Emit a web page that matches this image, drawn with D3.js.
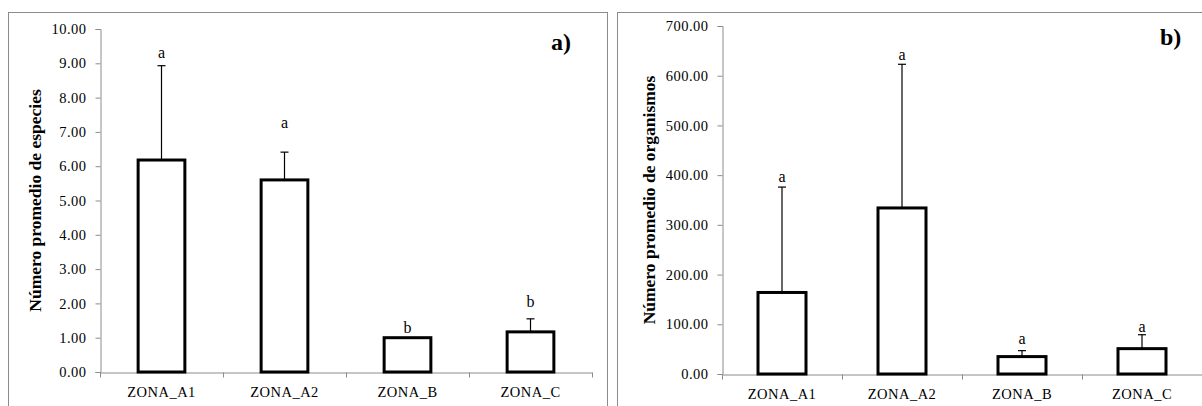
<!DOCTYPE html>
<html>
<head>
<meta charset="utf-8">
<script src="https://cdn.jsdelivr.net/npm/d3@7"></script>
<style>
  body { margin: 0; background: #fff; }
  svg text { font-family: "Liberation Serif", "Times New Roman", serif; }
</style>
</head>
<body>
<svg id="chart" width="1202" height="406"></svg>
<script>
var zonas = ["ZONA_A1", "ZONA_A2", "ZONA_B", "ZONA_C"];

// panel a) numero de especies
var especiesMean = [6.18, 5.60, 1.00, 1.17];
var especiesErr = [2.75, 0.81, 0, 0.38];
var especiesLetra = ["a", "a", "b", "b"];
var especiesLetraY = [9.15, 7.11, 1.14, 1.90];
var especiesTicks = [0, 1, 2, 3, 4, 5, 6, 7, 8, 9, 10];

// panel b) numero de organismos
var organismosMean = [164, 334, 35, 51];
var organismosErr = [212, 289, 12, 28];
var organismosLetra = ["a", "a", "a", "a"];
var organismosLetraY = [386, 631, 61, 85];
var organismosTicks = [0, 100, 200, 300, 400, 500, 600, 700];

var svg = d3.select("#chart");

function barPanel(opt) {
  var g = svg.append("g");

  // marco del grafico
  g.append("rect")
      .attr("x", opt.box[0] + 0.5)
      .attr("y", opt.box[1] + 0.5)
      .attr("width", opt.box[2])
      .attr("height", opt.box[3])
      .attr("fill", "none")
      .attr("stroke", "#8c8c8c")
      .attr("stroke-width", 1);

  var x = d3.scaleBand()
      .domain(zonas)
      .range([opt.x0, opt.x1])
      .paddingInner(opt.pad)
      .paddingOuter(opt.pad / 2);

  var y = d3.scaleLinear()
      .domain([0, d3.max(opt.ticks)])
      .range([opt.y0, opt.y1]);

  var yAxis = g.append("g")
      .attr("transform", "translate(" + (opt.x0 + 0.5) + ",0)")
      .call(d3.axisLeft(y).tickValues(opt.ticks).tickFormat(d3.format(".2f")).tickSize(5).tickPadding(9));

  var xAxis = g.append("g")
      .attr("transform", "translate(0," + (opt.y0 + 0.5) + ")")
      .call(d3.axisBottom(x).tickSize(0).tickPadding(14));

  // marcas entre categorias
  var step = x.step();
  xAxis.selectAll(".sep")
      .data(d3.range(zonas.length + 1))
      .enter().append("line")
        .attr("class", "sep")
        .attr("x1", function(i) { return Math.round(opt.x0 + i * step) + 0.5; })
        .attr("x2", function(i) { return Math.round(opt.x0 + i * step) + 0.5; })
        .attr("y1", 0)
        .attr("y2", 5);

  [yAxis, xAxis].forEach(function(a) {
    a.selectAll("path, line").attr("stroke", "#8c8c8c");
    a.selectAll("text")
        .attr("fill", "#000")
        .style("font-size", "14.5px")
        .style("letter-spacing", "0.5px");
  });

  var data = zonas.map(function(z, i) {
    return { name: z, mean: opt.mean[i], err: opt.err[i], letra: opt.letra[i], ly: opt.letraY[i] };
  });

  // barras de error (solo hacia arriba)
  var eb = g.selectAll(".err")
      .data(data.filter(function(d) { return d.err > 0; }))
      .enter().append("g")
        .attr("class", "err");

  eb.append("line")
      .attr("x1", function(d) { return x(d.name) + x.bandwidth() / 2; })
      .attr("x2", function(d) { return x(d.name) + x.bandwidth() / 2; })
      .attr("y1", function(d) { return y(d.mean); })
      .attr("y2", function(d) { return y(d.mean + d.err); })
      .attr("stroke", "#000")
      .attr("stroke-width", 1.2);

  eb.append("line")
      .attr("x1", function(d) { return x(d.name) + x.bandwidth() / 2 - 4; })
      .attr("x2", function(d) { return x(d.name) + x.bandwidth() / 2 + 4; })
      .attr("y1", function(d) { return y(d.mean + d.err); })
      .attr("y2", function(d) { return y(d.mean + d.err); })
      .attr("stroke", "#000")
      .attr("stroke-width", 1.2);

  g.selectAll(".bar")
      .data(data)
      .enter().append("rect")
        .attr("class", "bar")
        .attr("x", function(d) { return x(d.name); })
        .attr("y", function(d) { return y(d.mean); })
        .attr("width", x.bandwidth())
        .attr("height", function(d) { return y(0) - y(d.mean); })
        .attr("fill", "#fff")
        .attr("stroke", "#000")
        .attr("stroke-width", 3);

  g.selectAll(".letra")
      .data(data)
      .enter().append("text")
        .attr("class", "letra")
        .attr("x", function(d) { return x(d.name) + x.bandwidth() / 2; })
        .attr("y", function(d) { return y(d.ly); })
        .attr("text-anchor", "middle")
        .style("font-size", "16px")
        .text(function(d) { return d.letra; });

  g.append("text")
      .attr("transform", "translate(" + opt.titleX + "," + ((opt.y0 + opt.y1) / 2) + ") rotate(-90)")
      .attr("text-anchor", "middle")
      .attr("dy", "0.35em")
      .style("font-size", "17.5px")
      .style("font-weight", "bold")
      .text(opt.title);

  g.append("text")
      .attr("x", opt.tag[0])
      .attr("y", opt.tag[1])
      .style("font-size", "24px")
      .style("font-weight", "bold")
      .text(opt.tagText);
}

barPanel({
  box: [8, 12, 599, 410],
  x0: 100, x1: 592, y0: 372, y1: 29,
  pad: 0.62,
  ticks: especiesTicks,
  mean: especiesMean, err: especiesErr, letra: especiesLetra, letraY: especiesLetraY,
  title: "Número promedio de especies", titleX: 35,
  tag: [551, 50], tagText: "a)"
});

barPanel({
  box: [617, 12, 600, 410],
  x0: 722, x1: 1202, y0: 374, y1: 26,
  pad: 0.6,
  ticks: organismosTicks,
  mean: organismosMean, err: organismosErr, letra: organismosLetra, letraY: organismosLetraY,
  title: "Número promedio de organismos", titleX: 649,
  tag: [1160, 45], tagText: "b)"
});
</script>
</body>
</html>
